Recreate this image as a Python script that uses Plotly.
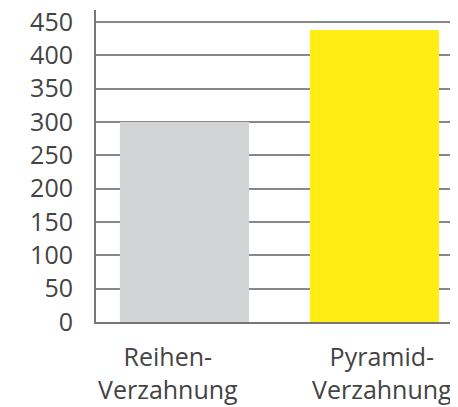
import plotly.graph_objects as go

categories = ["Reihen-<br>Verzahnung", "Pyramid-<br>Verzahnung"]
values = [300, 438]
colors = ["#d3d4d6", "#ffed14"]
y_ticks = [0, 50, 100, 150, 200, 250, 300, 350, 400, 450]
label_shift = [-17, 8]

x_pos = list(range(len(categories)))

fig = go.Figure(go.Bar(x=x_pos, y=values, marker=dict(color=colors, line=dict(width=0)), width=0.68))

for i, (cat, sh) in enumerate(zip(categories, label_shift)):
    fig.add_annotation(
        x=i, xref="x", y=0, yref="paper",
        text=cat, showarrow=False,
        xanchor="center", yanchor="top",
        yshift=-15, xshift=sh,
        font=dict(family="Open Sans", size=25, color="#444444"),
    )

# page body has an 8px margin; compensate so the plot sits where the reference has it
fig.update_layout(
    width=450, height=399,
    margin=dict(l=88, r=0, t=2, b=85),
    plot_bgcolor="white", paper_bgcolor="white",
    font=dict(family="Open Sans", size=25, color="#444444"),
    showlegend=False,
)
fig.update_xaxes(
    range=[-0.466, 1.44],
    tickvals=x_pos, showticklabels=False,
    showgrid=False, zeroline=False,
    showline=True, linecolor="#777777", linewidth=2,
    ticks="", automargin=False,
)
fig.update_yaxes(
    range=[0, 468],
    tickvals=y_ticks,
    showgrid=True, gridcolor="#888888", gridwidth=1.5,
    zeroline=False,
    showline=True, linecolor="#777777", linewidth=2,
    ticks="", ticklabelstandoff=16, automargin=False,
    ticklabeloverflow="allow",
    tickfont=dict(family="Open Sans", size=25, color="#444444"),
)
fig.write_html("out.html")
